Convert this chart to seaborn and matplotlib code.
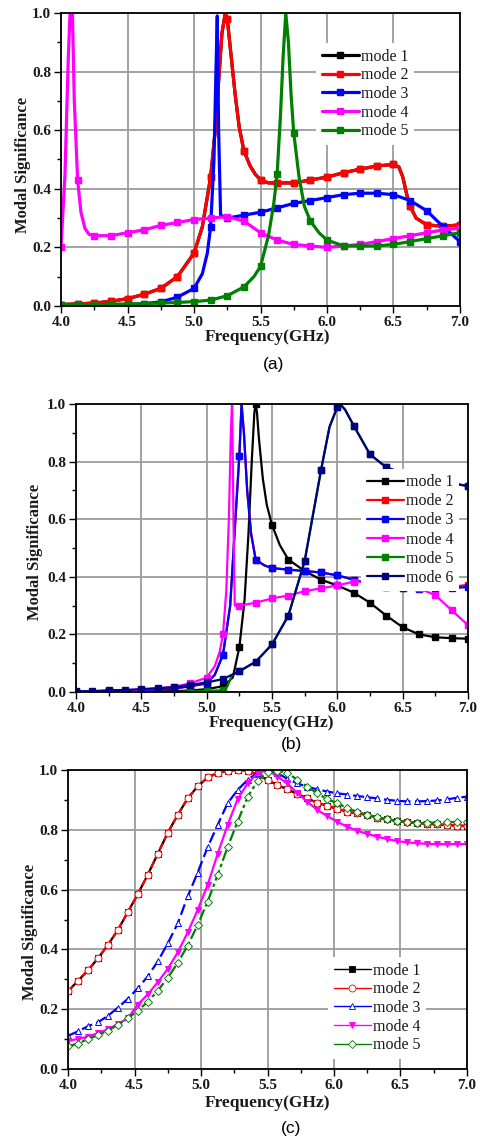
import numpy as np
import pandas as pd
import matplotlib
matplotlib.use("Agg")
import matplotlib.pyplot as plt
from matplotlib.lines import Line2D
from matplotlib.ticker import MultipleLocator
import seaborn as sns

# ---------------- panel (a) ----------------
FREQ_A2 = [4.0, 4.125, 4.25, 4.375, 4.5, 4.625, 4.75, 4.875, 5.0, 5.0625, 5.125, 5.16, 5.19,
           5.21, 5.235, 5.25, 5.28, 5.31, 5.34, 5.375, 5.42, 5.46, 5.5, 5.56, 5.625, 5.75,
           5.875, 6.0, 6.125, 6.25, 6.375, 6.5, 6.54, 6.57, 6.6, 6.625, 6.67, 6.75, 6.875, 7.0]
MS_A2 = [0.005, 0.007, 0.01, 0.016, 0.025, 0.04, 0.06, 0.1, 0.18, 0.27, 0.44, 0.6, 0.8,
         0.93, 1.0, 0.98, 0.85, 0.72, 0.61, 0.53, 0.48, 0.45, 0.43, 0.42, 0.42, 0.42,
         0.43, 0.44, 0.455, 0.467, 0.478, 0.483, 0.475, 0.44, 0.38, 0.34, 0.3, 0.277, 0.272, 0.277]
FREQ_A1 = FREQ_A2
MS_A1 = MS_A2

FREQ_A3 = [4.0, 4.125, 4.25, 4.375, 4.5, 4.625, 4.75, 4.875, 5.0, 5.0625, 5.1, 5.125, 5.15,
           5.165, 5.175, 5.185, 5.2, 5.25, 5.375, 5.5, 5.625, 5.75, 5.875, 6.0, 6.125, 6.25,
           6.375, 6.5, 6.625, 6.75, 6.875, 7.0]
MS_A3 = [0.0, 0.0, 0.001, 0.002, 0.004, 0.008, 0.014, 0.03, 0.06, 0.11, 0.18, 0.27, 0.5,
         0.8, 0.99, 0.6, 0.31, 0.30, 0.31, 0.32, 0.335, 0.35, 0.36, 0.37, 0.38, 0.385,
         0.385, 0.38, 0.36, 0.325, 0.27, 0.22]

FREQ_A4 = [4.0, 4.03, 4.055, 4.07, 4.085, 4.1, 4.125, 4.15, 4.18, 4.21, 4.25, 4.375, 4.5,
           4.625, 4.75, 4.875, 5.0, 5.125, 5.25, 5.375, 5.5, 5.625, 5.75, 5.875, 6.0, 6.125,
           6.25, 6.375, 6.5, 6.625, 6.75, 6.875, 7.0]
MS_A4 = [0.2, 0.45, 0.85, 1.02, 1.02, 0.7, 0.43, 0.32, 0.265, 0.245, 0.24, 0.24, 0.25,
         0.26, 0.275, 0.285, 0.295, 0.30, 0.305, 0.29, 0.25, 0.225, 0.21, 0.205, 0.2, 0.205,
         0.21, 0.22, 0.23, 0.24, 0.25, 0.26, 0.265]

FREQ_A5 = [4.0, 4.125, 4.25, 4.375, 4.5, 4.625, 4.75, 4.875, 5.0, 5.125, 5.25, 5.375, 5.45,
           5.5, 5.56, 5.6, 5.625, 5.65, 5.67, 5.69, 5.71, 5.73, 5.75, 5.79, 5.83, 5.875,
           5.94, 6.0, 6.125, 6.25, 6.375, 6.5, 6.625, 6.75, 6.875, 7.0]
MS_A5 = [0.005, 0.005, 0.005, 0.006, 0.007, 0.008, 0.01, 0.012, 0.015, 0.02, 0.035, 0.065, 0.1,
         0.135, 0.24, 0.35, 0.45, 0.65, 0.85, 1.0, 0.9, 0.72, 0.59, 0.44, 0.34, 0.29,
         0.25, 0.225, 0.205, 0.205, 0.205, 0.21, 0.22, 0.23, 0.24, 0.25]

# ---------------- panel (b) ----------------
FREQ_B1 = [4.0, 4.25, 4.5, 4.75, 4.875, 5.0, 5.125, 5.2, 5.25, 5.29, 5.32, 5.345, 5.365,
           5.375, 5.385, 5.4, 5.43, 5.46, 5.5, 5.56, 5.625, 5.75, 5.875, 6.0, 6.125, 6.25,
           6.375, 6.5, 6.625, 6.75, 6.875, 7.0]
MS_B1 = [0.0, 0.0, 0.001, 0.003, 0.005, 0.01, 0.02, 0.05, 0.155, 0.32, 0.55, 0.8, 0.97,
         1.0, 0.97, 0.88, 0.74, 0.65, 0.58, 0.51, 0.46, 0.42, 0.39, 0.37, 0.345, 0.31,
         0.265, 0.225, 0.2, 0.19, 0.187, 0.185]

FREQ_B3 = [4.0, 4.25, 4.5, 4.75, 4.875, 5.0, 5.0625, 5.125, 5.18, 5.22, 5.25, 5.267, 5.285,
           5.31, 5.34, 5.375, 5.44, 5.5, 5.625, 5.75, 5.875, 6.0, 6.125, 6.25, 6.375, 6.5,
           6.625, 6.75, 6.875, 7.0]
MS_B3 = [0.0, 0.002, 0.006, 0.012, 0.02, 0.03, 0.06, 0.13, 0.3, 0.6, 0.82, 1.0, 0.9,
         0.7, 0.55, 0.46, 0.44, 0.43, 0.425, 0.42, 0.415, 0.405, 0.39, 0.375, 0.365, 0.36,
         0.358, 0.36, 0.36, 0.365]
FREQ_B2 = FREQ_B3
MS_B2 = [0.0, 0.002, 0.006, 0.012, 0.02, 0.03, 0.06, 0.13, 0.3, 0.6, 0.82, 1.0, 0.9,
         0.7, 0.55, 0.46, 0.44, 0.43, 0.425, 0.42, 0.415, 0.405, 0.39, 0.375, 0.365, 0.36,
         0.36, 0.362, 0.365, 0.372]

FREQ_B4 = [4.0, 4.25, 4.5, 4.75, 4.875, 5.0, 5.0625, 5.1, 5.125, 5.15, 5.17, 5.185, 5.195,
           5.205, 5.215, 5.25, 5.375, 5.5, 5.625, 5.75, 5.875, 6.0, 6.125, 6.25, 6.375, 6.5,
           6.625, 6.75, 6.875, 7.0]
MS_B4 = [0.0, 0.003, 0.008, 0.018, 0.03, 0.05, 0.09, 0.14, 0.2, 0.35, 0.6, 0.9, 1.02,
         0.6, 0.3, 0.3, 0.31, 0.325, 0.335, 0.35, 0.36, 0.37, 0.383, 0.385, 0.38, 0.37,
         0.36, 0.336, 0.284, 0.232]

FREQ_B5 = [4.75, 4.875, 5.0, 5.125, 5.16, 5.19, 5.22, 5.25, 5.375, 5.5, 5.625, 5.75, 5.875,
           5.94, 6.0, 6.02, 6.06, 6.125, 6.25, 6.375, 6.5, 6.625, 6.75, 6.875, 7.0]
MS_B5 = [0.0, 0.002, 0.004, 0.006, 0.02, 0.055, 0.065, 0.072, 0.105, 0.165, 0.265, 0.455, 0.77,
         0.92, 0.99, 1.0, 0.98, 0.925, 0.825, 0.78, 0.76, 0.745, 0.735, 0.725, 0.715]

FREQ_B6 = [4.0, 4.125, 4.25, 4.375, 4.5, 4.625, 4.75, 4.875, 5.0, 5.125, 5.25, 5.375, 5.5,
           5.625, 5.75, 5.875, 5.94, 6.0, 6.02, 6.06, 6.125, 6.25, 6.375, 6.5, 6.625, 6.75,
           6.875, 7.0]
MS_B6 = [0.002, 0.003, 0.006, 0.007, 0.01, 0.013, 0.017, 0.025, 0.033, 0.045, 0.072, 0.105, 0.165,
         0.265, 0.455, 0.77, 0.92, 0.99, 1.0, 0.98, 0.925, 0.825, 0.78, 0.76, 0.745, 0.735,
         0.725, 0.715]

# ---------------- panel (c) ----------------
FREQ_C = np.linspace(4.0, 7.0, 41)
MS_C2 = [0.26, 0.295, 0.33, 0.37, 0.415, 0.465, 0.525, 0.585, 0.65, 0.72, 0.79, 0.85, 0.905,
         0.945, 0.975, 0.99, 0.998, 1.0, 0.998, 0.985, 0.966, 0.95, 0.935, 0.92, 0.905, 0.89,
         0.88, 0.87, 0.86, 0.855, 0.85, 0.84, 0.835, 0.83, 0.825, 0.823, 0.82, 0.818, 0.816,
         0.814, 0.813]
MS_C1 = MS_C2
MS_C3 = [0.111, 0.126, 0.143, 0.156, 0.178, 0.205, 0.235, 0.27, 0.31, 0.36, 0.42, 0.487, 0.577,
         0.657, 0.742, 0.816, 0.889, 0.933, 0.967, 0.991, 1.0, 0.99, 0.97, 0.955, 0.944, 0.935,
         0.928, 0.922, 0.918, 0.913, 0.909, 0.905, 0.9, 0.897, 0.895, 0.895, 0.896, 0.898,
         0.902, 0.907, 0.911]
MS_C4 = [0.095, 0.1, 0.108, 0.12, 0.133, 0.15, 0.17, 0.215, 0.25, 0.29, 0.335, 0.39, 0.457,
         0.532, 0.616, 0.719, 0.816, 0.902, 0.955, 0.989, 1.0, 0.978, 0.955, 0.922, 0.894,
         0.866, 0.846, 0.827, 0.81, 0.797, 0.786, 0.777, 0.769, 0.762, 0.758, 0.755, 0.753,
         0.752, 0.752, 0.752, 0.752]
MS_C5 = [0.076, 0.085, 0.1, 0.113, 0.128, 0.148, 0.17, 0.195, 0.225, 0.262, 0.305, 0.355, 0.413,
         0.482, 0.56, 0.649, 0.742, 0.827, 0.909, 0.964, 0.994, 0.998, 0.99, 0.967, 0.944,
         0.922, 0.902, 0.889, 0.872, 0.86, 0.85, 0.842, 0.835, 0.83, 0.826, 0.824, 0.824,
         0.824, 0.825, 0.826, 0.827]

LABELS = ["mode 1", "mode 2", "mode 3", "mode 4", "mode 5", "mode 6"]
X_TICKS = [4.0, 4.5, 5.0, 5.5, 6.0, 6.5, 7.0]
Y_TICKS = [0.0, 0.2, 0.4, 0.6, 0.8, 1.0]
CAPTIONS = ["(a)", "(b)", "(c)"]

sns.set_style("ticks")
plt.rcParams["font.family"] = ["Liberation Serif", "DejaVu Serif"]

W, H = 481, 1141
fig = plt.figure(figsize=(W / 100, H / 100), dpi=100)
TXT = "#1a1a1a"


def axes_px(left, top, right, bottom):
    return fig.add_axes([left / W, 1 - bottom / H, (right - left) / W, (bottom - top) / H])


def style_axes(ax):
    ax.set_xlim(4.0, 7.0)
    ax.set_ylim(0.0, 1.0)
    ax.set_xticks(X_TICKS)
    ax.set_yticks(Y_TICKS)
    ax.set_xticklabels([f"{t:.1f}" for t in X_TICKS])
    ax.set_yticklabels([f"{t:.1f}" for t in Y_TICKS])
    ax.xaxis.set_minor_locator(MultipleLocator(0.25))
    ax.yaxis.set_minor_locator(MultipleLocator(0.1))
    ax.grid(True, which="major", color="#9c9c9c", linewidth=1.3)
    ax.set_axisbelow(True)
    for s in ax.spines.values():
        s.set_color("black")
        s.set_linewidth(1.3)
    ax.tick_params(which="both", direction="out", top=False, right=False,
                   colors="black", labelcolor=TXT, width=1.0)
    ax.tick_params(which="major", length=5, labelsize=11, pad=2)
    ax.tick_params(which="minor", length=3)
    for lab in ax.get_xticklabels() + ax.get_yticklabels():
        lab.set_fontweight("bold")
    ax.set_xlabel("")
    ax.set_ylabel("")


def draw(ax, freq, vals, color, label, marker, step, lw, ms, mfc=None, ls="-", mew=1.0):
    df = pd.DataFrame({"f": freq, "v": vals})
    if step is None:
        idx = list(range(len(freq)))
    else:
        idx = [i for i, f in enumerate(freq) if abs(f / step - round(f / step)) < 1e-6]
    sns.lineplot(data=df, x="f", y="v", ax=ax, estimator=None, sort=False,
                 color=color, label=label, marker=marker, markevery=idx,
                 linestyle=ls, linewidth=lw, markersize=ms,
                 markerfacecolor=color if mfc is None else mfc,
                 markeredgecolor=color, markeredgewidth=mew)


def add_legend(ax, handles, cx, cy, lsp):
    leg = ax.legend(handles=handles, labels=[h.get_label() for h in handles],
                    loc="center", bbox_to_anchor=(cx / W, 1 - cy / H),
                    bbox_transform=fig.transFigure, frameon=True, fancybox=False,
                    facecolor="white", edgecolor="none", framealpha=1.0,
                    fontsize=11.5, handlelength=2.3, handletextpad=0.12,
                    labelspacing=lsp, borderpad=0.35, numpoints=1)
    for t in leg.get_texts():
        t.set_color(TXT)


def labels(xl_x, xl_y, yl_x, yl_y, cap, cap_x, cap_y):
    fig.text(xl_x / W, 1 - xl_y / H, "Frequency(GHz)", ha="center", va="center",
             fontsize=12.5, fontweight="bold", color=TXT)
    fig.text(yl_x / W, 1 - yl_y / H, "Modal Significance", ha="center", va="center",
             rotation=90, fontsize=12, fontweight="bold", color=TXT)
    fig.text(cap_x / W, 1 - cap_y / H, cap, ha="center", va="center",
             fontsize=12.5, family=["Liberation Sans", "DejaVu Sans"], color="black")


# panel (a)
axa = axes_px(61, 13, 460, 306)
series_a = [(FREQ_A1, MS_A1, "black"), (FREQ_A2, MS_A2, "#ff0000"),
            (FREQ_A3, MS_A3, "#0000ff"), (FREQ_A4, MS_A4, "#ff00ff"),
            (FREQ_A5, MS_A5, "#008000")]
for (f, v, c), lab in zip(series_a, LABELS):
    draw(axa, f, v, c, lab, "s", 0.125, lw=2.3, ms=4.5)
style_axes(axa)
add_legend(axa, axa.get_lines()[:5], 365, 94, 0.17)
labels(267, 337, 23, 165, CAPTIONS[0], 274, 365)

# panel (b)
axb = axes_px(76, 404, 468, 692)
series_b = [(FREQ_B1, MS_B1, "black"), (FREQ_B2, MS_B2, "#ff0000"),
            (FREQ_B3, MS_B3, "#0000ff"), (FREQ_B4, MS_B4, "#ff00ff"),
            (FREQ_B5, MS_B5, "#008000"), (FREQ_B6, MS_B6, "#000080")]
for (f, v, c), lab in zip(series_b, LABELS):
    draw(axb, f, v, c, lab, "s", 0.125, lw=1.6, ms=4.3)
style_axes(axb)
add_legend(axb, axb.get_lines()[:6], 410, 530, 0.19)
labels(271, 723, 35, 552, CAPTIONS[1], 292, 745)

# panel (c)
axc = axes_px(68, 770, 467, 1069)
series_c = [
    (MS_C1, "black", "s", "black", "-"),
    (MS_C2, "#ff0000", "o", "white", (0, (3, 1.5))),
    (MS_C3, "#0000ff", "^", "white", (0, (5, 2))),
    (MS_C4, "#ff00ff", "v", "#ff00ff", "-"),
    (MS_C5, "#008000", "D", "white", (0, (5, 1.5, 1.5, 1.5))),
]
handles_c = []
for (v, c, m, fc, ls), lab in zip(series_c, LABELS):
    msz = 4.2 if m == "D" else 5.0
    draw(axc, list(FREQ_C), v, c, lab, m, None, lw=1.6, ms=msz, mfc=fc, ls=ls, mew=0.7)
    handles_c.append(Line2D([], [], color=c, linewidth=1.0, marker=m, markersize=msz,
                            markerfacecolor=fc, markeredgecolor=c,
                            markeredgewidth=0.6, label=lab))
style_axes(axc)
add_legend(axc, handles_c, 377, 1008, 0.17)
labels(267, 1103, 30, 932, CAPTIONS[2], 291, 1129)

fig.savefig("out.png", dpi=100)
